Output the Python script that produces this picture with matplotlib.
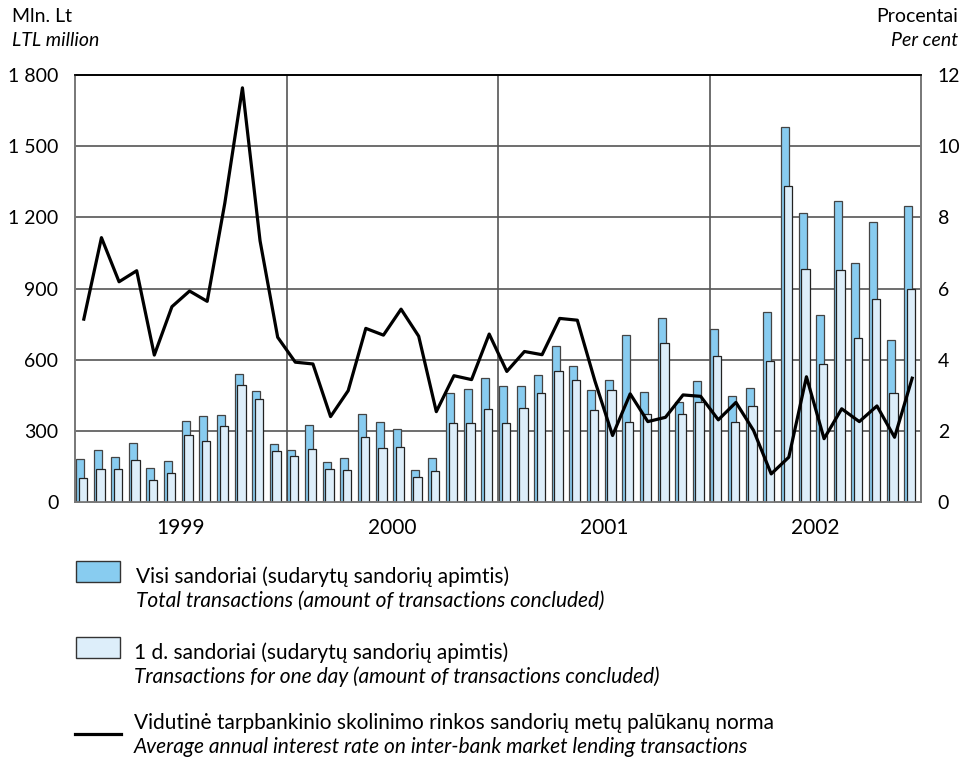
import numpy as np
import matplotlib.pyplot as plt
from matplotlib.patches import Rectangle
from matplotlib.lines import Line2D

# Mėnesiniai duomenys 1999-2002
years = ["1999", "2000", "2001", "2002"]

visi = [182, 220, 189, 250, 144, 175, 342, 363, 367, 538, 468, 244,
        221, 325, 167, 184, 370, 338, 306, 137, 186, 461, 478, 523,
        488, 488, 536, 658, 573, 474, 513, 704, 464, 775, 421, 509,
        729, 446, 479, 803, 1580, 1220, 788, 1269, 1008, 1182, 683, 1249]

vienos_d = [102, 139, 139, 178, 94, 123, 283, 258, 321, 492, 435, 213,
            192, 224, 139, 133, 275, 229, 233, 107, 130, 334, 334, 394,
            335, 397, 460, 551, 516, 386, 471, 338, 369, 672, 373, 421,
            615, 338, 405, 596, 1332, 983, 582, 980, 691, 857, 460, 896]

palukanos = [5.14, 7.43, 6.19, 6.50, 4.13, 5.49, 5.93, 5.64, 8.4, 11.64, 7.34, 4.63,
             3.93, 3.88, 2.40, 3.13, 4.88, 4.69, 5.42, 4.66, 2.54, 3.55, 3.44, 4.72,
             3.67, 4.23, 4.14, 5.16, 5.11, 3.4, 1.87, 3.04, 2.26, 2.38, 3.01, 2.97,
             2.31, 2.80, 2.01, 0.79, 1.26, 3.52, 1.78, 2.62, 2.26, 2.70, 1.82, 3.48]

left_ticks = [0, 300, 600, 900, 1200, 1500, 1800]
left_labels = ["0", "300", "600", "900", "1 200", "1 500", "1 800"]
right_ticks = [0, 2, 4, 6, 8, 10, 12]

plt.rcParams['font.family'] = ['Lato', 'DejaVu Sans']

BLUE = '#88CCF0'
LIGHT = '#DDEEFA'
GRID = '#555555'
FS = 14
LFS = 15

fig = plt.figure(figsize=(9.64, 7.64), dpi=100)
ax = fig.add_axes([0.0778, 0.3429, 0.8776, 0.5589])

x = np.arange(len(visi))
ax.bar(x - 0.22, visi, width=0.46, color=BLUE, edgecolor='#444444', linewidth=0.9, zorder=2)
ax.bar(x - 0.06, vienos_d, width=0.47, color=LIGHT, edgecolor='#222222', linewidth=0.9, zorder=3)

ax.set_xlim(-0.5, len(visi) - 0.5)
ax.set_ylim(0, 1800)
ax.set_yticks(left_ticks)
ax.set_yticklabels(left_labels, fontsize=FS)
ax.set_xticks([])
for y in left_ticks[1:-1]:
    ax.axhline(y, color=GRID, linewidth=1.2, zorder=1)
for k in range(1, len(years)):
    ax.axvline(12 * k - 0.5, color=GRID, linewidth=1.2, zorder=1)
for k, yr in enumerate(years):
    ax.text(12 * k + 5.5, -0.062, yr, transform=ax.get_xaxis_transform(),
            ha='center', va='center', fontsize=15)
ax.tick_params(axis='both', length=0, pad=12)

ax2 = ax.twinx()
ax2.plot(x, palukanos, color='black', linewidth=2.3, zorder=5)
ax2.set_ylim(0, 12)
ax2.set_yticks(right_ticks)
ax2.set_yticklabels([str(t) for t in right_ticks], fontsize=FS)
ax2.tick_params(axis='y', length=0, pad=12)

for a in (ax, ax2):
    for side in ('left', 'right', 'bottom'):
        a.spines[side].set_color('#777777')
        a.spines[side].set_linewidth(1.2)
    a.spines['top'].set_color('black')
    a.spines['top'].set_linewidth(1.2)

# Antraštės
fig.text(12 / 964, 1 - 17 / 764, "Mln. Lt", fontsize=FS, va='center')
fig.text(12 / 964, 1 - 41 / 764, "LTL million", fontsize=FS, style='italic', va='center')
fig.text(958 / 964, 1 - 17 / 764, "Procentai", fontsize=FS, va='center', ha='right')
fig.text(958 / 964, 1 - 41 / 764, "Per cent", fontsize=FS, style='italic', va='center', ha='right')

# Legenda
def fx(px):
    return px / 964

def fy(py):
    return 1 - py / 764

fig.patches.append(Rectangle((fx(76), fy(582)), fx(120) - fx(76), fy(561) - fy(582),
                             transform=fig.transFigure, facecolor=BLUE, edgecolor='#333333', linewidth=1))
fig.patches.append(Rectangle((fx(76), fy(658)), fx(120) - fx(76), fy(637) - fy(658),
                             transform=fig.transFigure, facecolor=LIGHT, edgecolor='#333333', linewidth=1))
fig.lines.append(Line2D([fx(75), fx(121)], [fy(734), fy(734)], transform=fig.transFigure,
                        color='black', linewidth=2.3))

fig.text(fx(136), fy(577), "Visi sandoriai (sudarytų sandorių apimtis)", fontsize=LFS, va='center')
fig.text(fx(136), fy(601), "Total transactions (amount of transactions concluded)", fontsize=LFS,
         style='italic', va='center')
fig.text(fx(134), fy(653), "1 d. sandoriai (sudarytų sandorių apimtis)", fontsize=LFS, va='center')
fig.text(fx(134), fy(677), "Transactions for one day (amount of transactions concluded)", fontsize=LFS,
         style='italic', va='center')
fig.text(fx(134), fy(723), "Vidutinė tarpbankinio skolinimo rinkos sandorių metų palūkanų norma",
         fontsize=LFS, va='center')
fig.text(fx(134), fy(747), "Average annual interest rate on inter-bank market lending transactions",
         fontsize=LFS, style='italic', va='center')

fig.savefig("out.png", dpi=100)
